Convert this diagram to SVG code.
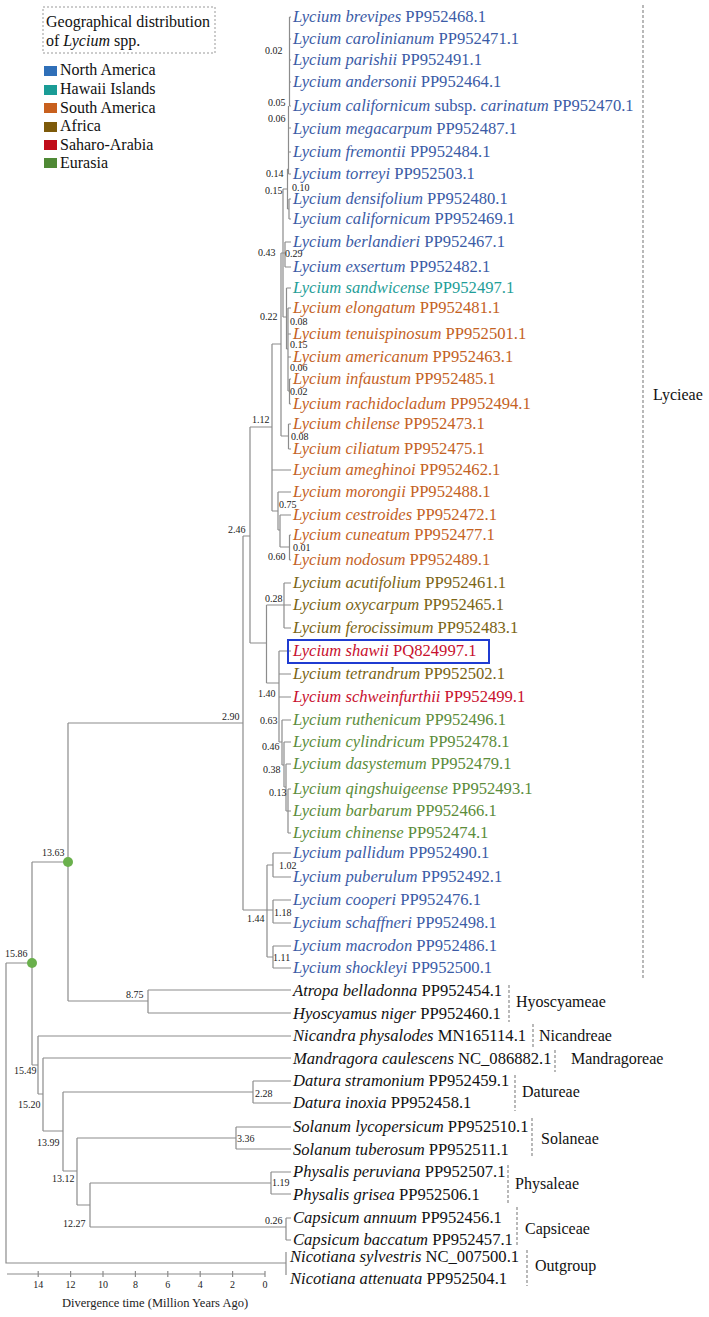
<svg xmlns="http://www.w3.org/2000/svg" width="709" height="1317" viewBox="0 0 709 1317">
<style>
.br{stroke:#8c8c8c;stroke-width:1.2;fill:none}
.dash{stroke:#8a8a8a;stroke-width:1.2;stroke-dasharray:3,2;fill:none}
.nl{font-family:"Liberation Serif",serif;font-size:10px;fill:#222}
.sp{font-family:"Liberation Serif",serif;font-size:16.6px}
.it{font-style:italic}
.na{fill:#3b5ba6}.hw{fill:#1f9e98}.sa{fill:#c4621f}.af{fill:#7a6414}.ar{fill:#c8102e}.eu{fill:#5b8c3a}.bk{fill:#111}
.cl{font-family:"Liberation Serif",serif;font-size:16px;fill:#111}
</style>
<rect width="709" height="1317" fill="#fff"/>
<g id="legend">
<rect x="43" y="7" width="172" height="46" fill="none" stroke="#999" stroke-width="1" stroke-dasharray="2,2"/>
<text class="cl" x="46" y="27">Geographical distribution</text>
<text class="cl" x="46" y="46">of <tspan class="it">Lycium</tspan> spp.</text>
<rect x="44" y="66" width="13" height="10" fill="#2f6fb8"/><text class="cl" x="60" y="75">North America</text>
<rect x="44" y="85" width="13" height="10" fill="#1a9c96"/><text class="cl" x="60" y="94">Hawaii Islands</text>
<rect x="44" y="103" width="13" height="10" fill="#c8601e"/><text class="cl" x="60" y="113">South America</text>
<rect x="44" y="122" width="13" height="10" fill="#7d5a0a"/><text class="cl" x="60" y="131">Africa</text>
<rect x="44" y="140" width="13" height="10" fill="#c00d1a"/><text class="cl" x="60" y="150">Saharo-Arabia</text>
<rect x="44" y="158" width="13" height="10" fill="#4f8935"/><text class="cl" x="60" y="168">Eurasia</text>
</g>
<g id="connectors" class="br">
<path d="M6,963V1263H286M6,963H32M32,862V1065M32,862H68M32,1065H38M68,723V1001M68,723H243M68,1001H148"/>
<path d="M148,990V1013M148,990H291M148,1013H291"/>
<path d="M38,1036V1094M38,1036H291M38,1094H43M43,1058V1131M43,1058H291M43,1131H63"/>
<path d="M63,1092V1171M63,1092H253M63,1171H77M253,1081V1103M253,1081H291M253,1103H291"/>
<path d="M77,1138V1205M77,1138H236M77,1205H90M236,1127V1149M236,1127H291M236,1149H291"/>
<path d="M90,1183V1227M90,1183H271M90,1227H286M271,1172V1194M271,1172H291M271,1194H291M286,1218V1240M286,1218H291M286,1240H291M286,1252V1275"/>
<path d="M243,536V910M243,536H250M243,910H273M250,427V643M250,427H272M250,643H266.5"/>
<path d="M267,865V957M267,865H273M267,957H273M273,853V877M273,853H291M273,877H291M273,900V923M273,900H291M273,923H291M273,946V968M273,946H291M273,968H291"/>
<path d="M272,344V511M272,344H281M272,470H291M272,511H278M278,492V530M278,492H291M278,530H280M280,515V547M280,515H291M280,547H289.5M289.5,535V560M289.5,535H291M289.5,560H291"/>
<path d="M281,253V436M281,253H285M281,436H288.5M288.5,424V449M288.5,424H291M288.5,449H291"/>
<path d="M283,189V317M283,189H287.5M283,317H286.5M285,242V267M285,242H291M285,267H291"/>
<path d="M286.5,288V349M286.5,288H291M286.5,349H288M288,308V391M288,308H291M288,334H291M288,357H291M288,391H289.5M289.5,379V404M289.5,379H291M289.5,404H291"/>
<path d="M287.5,169V209M287.5,209H289M289,199V219M289,199H291M289,219H291M287.5,169H288.5M288.5,106V174M288.5,174H291M288.5,152H291M288.5,128H291M289.5,17V106M289.5,17H291M289.5,39H291M289.5,60H291M289.5,82H291M289.5,106H291"/>
<path d="M266.5,605V683M266.5,605H284M266.5,683H279M284,583V628M284,583H291M284,605H291M284,628H291"/>
<path d="M279,651V742M279,651H291M279,674H291M279,697H291M279,742H282M282,720V765M282,720H291M282,765H284M284,742V787M284,742H291M284,787H286M286,764V811M286,764H291M286,811H288M288,789V833M288,789H291M288,811H291M288,833H291"/>
</g>
<g id="calibration-points" fill="#6ab04c">
<circle cx="68" cy="862" r="5"/><circle cx="32" cy="963" r="5"/>
</g>
<g id="node-ages" class="nl">
<text x="265" y="54">0.02</text><text x="268" y="106">0.05</text><text x="268" y="122">0.06</text>
<text x="266" y="177">0.14</text><text x="265" y="194">0.15</text><text x="292" y="191">0.10</text>
<text x="258" y="256">0.43</text><text x="285" y="257">0.29</text><text x="260" y="320">0.22</text>
<text x="290" y="325">0.08</text><text x="290" y="348">0.15</text><text x="290" y="371">0.06</text><text x="290" y="395">0.02</text>
<text x="252" y="423">1.12</text><text x="291" y="440">0.08</text><text x="228" y="533">2.46</text>
<text x="279" y="508">0.75</text><text x="293" y="551">0.01</text><text x="268" y="560">0.60</text>
<text x="265" y="602">0.28</text><text x="222" y="720">2.90</text><text x="258" y="697">1.40</text>
<text x="260" y="724">0.63</text><text x="262" y="750">0.46</text><text x="263" y="773">0.38</text><text x="269" y="796">0.13</text>
<text x="279" y="869">1.02</text><text x="274" y="916">1.18</text><text x="247" y="922">1.44</text><text x="273" y="961">1.11</text>
<text x="42" y="856">13.63</text><text x="5" y="957">15.86</text><text x="126" y="998">8.75</text>
<text x="14" y="1074">15.49</text><text x="18" y="1108">15.20</text><text x="37" y="1146">13.99</text>
<text x="255" y="1097">2.28</text><text x="237" y="1142">3.36</text><text x="52" y="1182">13.12</text>
<text x="272" y="1186">1.19</text><text x="63" y="1227">12.27</text><text x="265" y="1224">0.26</text>
</g>
<g id="tips" class="sp">
<g id="t1"><text x="293" y="22" class="na"><tspan class="it">Lycium brevipes</tspan> PP952468.1</text></g>
<g id="t2"><text x="293" y="44" class="na"><tspan class="it">Lycium carolinianum</tspan> PP952471.1</text></g>
<g id="t3"><text x="293" y="65" class="na"><tspan class="it">Lycium parishii</tspan> PP952491.1</text></g>
<g id="t4"><text x="293" y="87" class="na"><tspan class="it">Lycium andersonii</tspan> PP952464.1</text></g>
<g id="t5"><text x="293" y="111" class="na"><tspan class="it">Lycium californicum</tspan> subsp. <tspan class="it">carinatum</tspan> PP952470.1</text></g>
<g id="t6"><text x="293" y="134" class="na"><tspan class="it">Lycium megacarpum</tspan> PP952487.1</text></g>
<g id="t7"><text x="293" y="157" class="na"><tspan class="it">Lycium fremontii</tspan> PP952484.1</text></g>
<g id="t8"><text x="293" y="179" class="na"><tspan class="it">Lycium torreyi</tspan> PP952503.1</text></g>
<g id="t9"><text x="293" y="204" class="na"><tspan class="it">Lycium densifolium</tspan> PP952480.1</text></g>
<g id="t10"><text x="293" y="224" class="na"><tspan class="it">Lycium californicum</tspan> PP952469.1</text></g>
<g id="t11"><text x="293" y="247" class="na"><tspan class="it">Lycium berlandieri</tspan> PP952467.1</text></g>
<g id="t12"><text x="293" y="272" class="na"><tspan class="it">Lycium exsertum</tspan> PP952482.1</text></g>
<g id="t13"><text x="293" y="293" class="hw"><tspan class="it">Lycium sandwicense</tspan> PP952497.1</text></g>
<g id="t14"><text x="293" y="313" class="sa"><tspan class="it">Lycium elongatum</tspan> PP952481.1</text></g>
<g id="t15"><text x="293" y="339" class="sa"><tspan class="it">Lycium tenuispinosum</tspan> PP952501.1</text></g>
<g id="t16"><text x="293" y="362" class="sa"><tspan class="it">Lycium americanum</tspan> PP952463.1</text></g>
<g id="t17"><text x="293" y="384" class="sa"><tspan class="it">Lycium infaustum</tspan> PP952485.1</text></g>
<g id="t18"><text x="293" y="409" class="sa"><tspan class="it">Lycium rachidocladum</tspan> PP952494.1</text></g>
<g id="t19"><text x="293" y="429" class="sa"><tspan class="it">Lycium chilense</tspan> PP952473.1</text></g>
<g id="t20"><text x="293" y="454" class="sa"><tspan class="it">Lycium ciliatum</tspan> PP952475.1</text></g>
<g id="t21"><text x="293" y="475" class="sa"><tspan class="it">Lycium ameghinoi</tspan> PP952462.1</text></g>
<g id="t22"><text x="293" y="497" class="sa"><tspan class="it">Lycium morongii</tspan> PP952488.1</text></g>
<g id="t23"><text x="293" y="520" class="sa"><tspan class="it">Lycium cestroides</tspan> PP952472.1</text></g>
<g id="t24"><text x="293" y="540" class="sa"><tspan class="it">Lycium cuneatum</tspan> PP952477.1</text></g>
<g id="t25"><text x="293" y="565" class="sa"><tspan class="it">Lycium nodosum</tspan> PP952489.1</text></g>
<g id="t26"><text x="293" y="588" class="af"><tspan class="it">Lycium acutifolium</tspan> PP952461.1</text></g>
<g id="t27"><text x="293" y="610" class="af"><tspan class="it">Lycium oxycarpum</tspan> PP952465.1</text></g>
<g id="t28"><text x="293" y="633" class="af"><tspan class="it">Lycium ferocissimum</tspan> PP952483.1</text></g>
<g id="t29"><rect x="288" y="640" width="201" height="23" fill="none" stroke="#1f3bd1" stroke-width="2"/><text x="293" y="656" class="ar"><tspan class="it">Lycium shawii</tspan> PQ824997.1</text></g>
<g id="t30"><text x="293" y="679" class="af"><tspan class="it">Lycium tetrandrum</tspan> PP952502.1</text></g>
<g id="t31"><text x="293" y="702" class="ar"><tspan class="it">Lycium schweinfurthii</tspan> PP952499.1</text></g>
<g id="t32"><text x="293" y="725" class="eu"><tspan class="it">Lycium ruthenicum</tspan> PP952496.1</text></g>
<g id="t33"><text x="293" y="747" class="eu"><tspan class="it">Lycium cylindricum</tspan> PP952478.1</text></g>
<g id="t34"><text x="293" y="769" class="eu"><tspan class="it">Lycium dasystemum</tspan> PP952479.1</text></g>
<g id="t35"><text x="293" y="794" class="eu"><tspan class="it">Lycium qingshuigeense</tspan> PP952493.1</text></g>
<g id="t36"><text x="293" y="816" class="eu"><tspan class="it">Lycium barbarum</tspan> PP952466.1</text></g>
<g id="t37"><text x="293" y="838" class="eu"><tspan class="it">Lycium chinense</tspan> PP952474.1</text></g>
<g id="t38"><text x="293" y="858" class="na"><tspan class="it">Lycium pallidum</tspan> PP952490.1</text></g>
<g id="t39"><text x="293" y="882" class="na"><tspan class="it">Lycium puberulum</tspan> PP952492.1</text></g>
<g id="t40"><text x="293" y="905" class="na"><tspan class="it">Lycium cooperi</tspan> PP952476.1</text></g>
<g id="t41"><text x="293" y="928" class="na"><tspan class="it">Lycium schaffneri</tspan> PP952498.1</text></g>
<g id="t42"><text x="293" y="951" class="na"><tspan class="it">Lycium macrodon</tspan> PP952486.1</text></g>
<g id="t43"><text x="293" y="973" class="na"><tspan class="it">Lycium shockleyi</tspan> PP952500.1</text></g>
<g id="t44"><text x="293" y="996" class="bk"><tspan class="it">Atropa belladonna</tspan> PP952454.1</text></g>
<g id="t45"><text x="293" y="1019" class="bk"><tspan class="it">Hyoscyamus niger</tspan> PP952460.1</text></g>
<g id="t46"><text x="293" y="1041" class="bk"><tspan class="it">Nicandra physalodes</tspan> MN165114.1</text></g>
<g id="t47"><text x="293" y="1064" class="bk"><tspan class="it">Mandragora caulescens</tspan> NC_086882.1</text></g>
<g id="t48"><text x="293" y="1086" class="bk"><tspan class="it">Datura stramonium</tspan> PP952459.1</text></g>
<g id="t49"><text x="293" y="1108" class="bk"><tspan class="it">Datura inoxia</tspan> PP952458.1</text></g>
<g id="t50"><text x="293" y="1132" class="bk"><tspan class="it">Solanum lycopersicum</tspan> PP952510.1</text></g>
<g id="t51"><text x="293" y="1155" class="bk"><tspan class="it">Solanum tuberosum</tspan> PP952511.1</text></g>
<g id="t52"><text x="293" y="1177" class="bk"><tspan class="it">Physalis peruviana</tspan> PP952507.1</text></g>
<g id="t53"><text x="293" y="1200" class="bk"><tspan class="it">Physalis grisea</tspan> PP952506.1</text></g>
<g id="t54"><text x="293" y="1223" class="bk"><tspan class="it">Capsicum annuum</tspan> PP952456.1</text></g>
<g id="t55"><text x="293" y="1245" class="bk"><tspan class="it">Capsicum baccatum</tspan> PP952457.1</text></g>
<g id="t56"><text x="290" y="1262" class="bk"><tspan class="it">Nicotiana sylvestris</tspan> NC_007500.1</text></g>
<g id="t57"><text x="290" y="1284" class="bk"><tspan class="it">Nicotiana attenuata</tspan> PP952504.1</text></g>
</g>
<g id="clades">
<path class="dash" d="M643,5V978M509,985V1022M533,1024V1048M555,1050V1072M515,1075V1111M532,1118V1157M508,1165V1204M517,1207V1247M527,1250V1286"/>
<text class="cl" x="653" y="400">Lycieae</text>
<text class="cl" x="516" y="1007">Hyoscyameae</text>
<text class="cl" x="539" y="1041">Nicandreae</text>
<text class="cl" x="571" y="1064">Mandragoreae</text>
<text class="cl" x="522" y="1097">Datureae</text>
<text class="cl" x="541" y="1144">Solaneae</text>
<text class="cl" x="515" y="1189">Physaleae</text>
<text class="cl" x="525" y="1234">Capsiceae</text>
<text class="cl" x="535" y="1271">Outgroup</text>
</g>
<g id="axis">
<path class="br" d="M7,1274H265M38.2,1271V1277M70.6,1271V1277M103,1271V1277M135.4,1271V1277M167.8,1271V1277M200.2,1271V1277M232.6,1271V1277M265,1271V1277"/>
<g class="nl" text-anchor="middle">
<text x="38.2" y="1288">14</text><text x="70.6" y="1288">12</text><text x="103" y="1288">10</text><text x="135.4" y="1288">8</text><text x="167.8" y="1288">6</text><text x="200.2" y="1288">4</text><text x="232.6" y="1288">2</text><text x="265" y="1288">0</text>
</g>
<text x="155" y="1307" text-anchor="middle" style="font-family:'Liberation Serif',serif;font-size:12.5px;fill:#222">Divergence time (Million Years Ago)</text>
</g>
</svg>
